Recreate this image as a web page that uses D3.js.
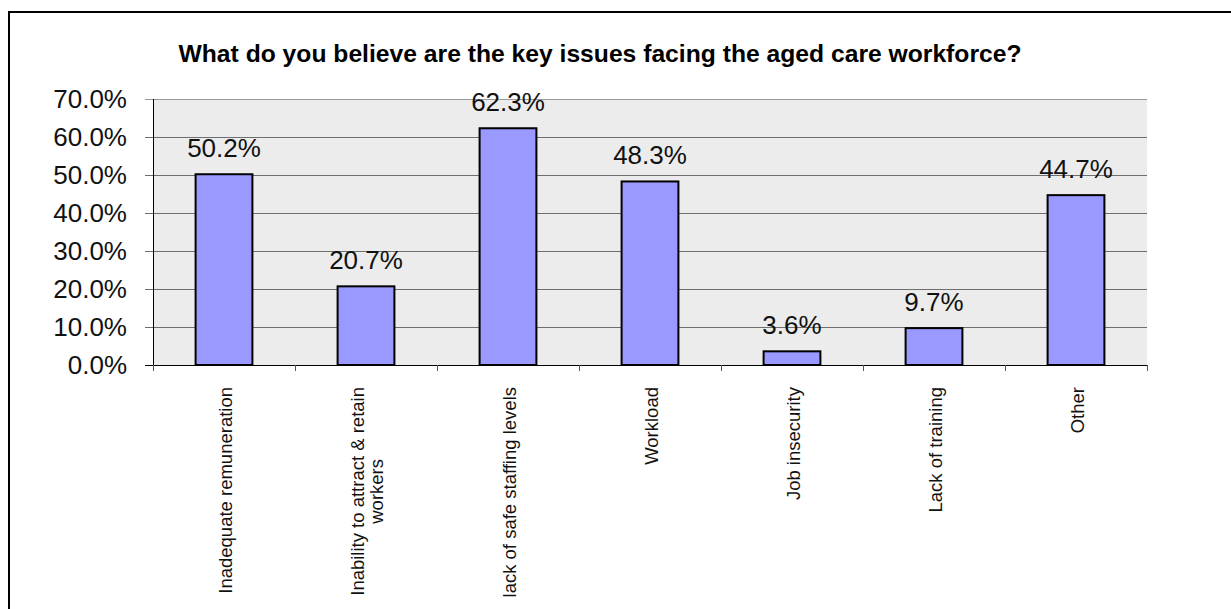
<!DOCTYPE html>
<html>
<head>
<meta charset="utf-8">
<script src="https://cdn.jsdelivr.net/npm/d3@7"></script>
<style>
  body { margin: 0; background: #fff; }
  svg { display: block; font-family: "Liberation Sans", Arial, sans-serif; }
</style>
</head>
<body>
<div id="chart"></div>
<script>
// data
const categories = [
  ["Inadequate remuneration"],
  ["Inability to attract & retain", "workers"],
  ["lack of safe staffing levels"],
  ["Workload"],
  ["Job insecurity"],
  ["Lack of training"],
  ["Other"]
];
const values = [50.2, 20.7, 62.3, 48.3, 3.6, 9.7, 44.7];
const yTicks = [0, 10, 20, 30, 40, 50, 60, 70];
const title = "What do you believe are the key issues facing the aged care workforce?";

const width = 1231, height = 609;
const margin = {left: 153, right: 84, top: 99, bottom: 244};

const svg = d3.select("#chart").append("svg")
    .attr("width", width)
    .attr("height", height);

// outer frame (runs off the right and bottom of the picture)
svg.append("rect")
    .attr("x", 9).attr("y", 12)
    .attr("width", width).attr("height", height)
    .attr("fill", "none")
    .attr("stroke", "#000")
    .attr("stroke-width", 2);

const x = d3.scaleBand()
    .domain(d3.range(categories.length))
    .range([margin.left, width - margin.right])
    .paddingInner(0.6)
    .paddingOuter(0.3);

const y = d3.scaleLinear()
    .domain([0, 70])
    .range([height - margin.bottom, margin.top]);

// plot background
svg.append("rect")
    .attr("x", margin.left).attr("y", margin.top)
    .attr("width", width - margin.right - margin.left)
    .attr("height", y(0) - margin.top)
    .attr("fill", "#ececec");

// grid lines + y ticks
svg.append("g")
    .selectAll("line")
    .data(yTicks.filter(d => d > 0))
    .join("line")
        .attr("x1", margin.left - 8)
        .attr("x2", width - margin.right)
        .attr("y1", d => y(d) + 0.5)
        .attr("y2", d => y(d) + 0.5)
        .attr("stroke", d => d == 70 ? "#999" : "#6e6e6e")
        .attr("stroke-width", 1);

svg.append("g")
    .selectAll("text")
    .data(yTicks)
    .join("text")
        .attr("x", 127)
        .attr("y", d => y(d))
        .attr("dy", "0.36em")
        .attr("text-anchor", "end")
        .attr("font-size", 26)
        .attr("fill", "#111")
        .text(d => d.toFixed(1) + "%");

// bars
svg.append("g")
    .selectAll("rect")
    .data(values)
    .join("rect")
        .attr("x", (d, i) => x(i))
        .attr("y", d => y(d))
        .attr("width", x.bandwidth())
        .attr("height", d => y(0) - y(d))
        .attr("fill", "#9999ff")
        .attr("stroke", "#000")
        .attr("stroke-width", 2);

// value labels
svg.append("g")
    .selectAll("text")
    .data(values)
    .join("text")
        .attr("x", (d, i) => x(i) + x.bandwidth() / 2)
        .attr("y", d => y(d) - 17)
        .attr("text-anchor", "middle")
        .attr("font-size", 26)
        .attr("fill", "#111")
        .text(d => d.toFixed(1) + "%");

// axes lines
const step = x.step();
svg.append("line")
    .attr("x1", margin.left + 0.5).attr("x2", margin.left + 0.5)
    .attr("y1", margin.top).attr("y2", y(0))
    .attr("stroke", "#000");
svg.append("line")
    .attr("x1", margin.left - 8).attr("x2", width - margin.right)
    .attr("y1", y(0) + 0.5).attr("y2", y(0) + 0.5)
    .attr("stroke", "#000");
svg.append("g")
    .selectAll("line")
    .data(d3.range(categories.length + 1))
    .join("line")
        .attr("x1", i => margin.left + i * step + 0.5)
        .attr("x2", i => margin.left + i * step + 0.5)
        .attr("y1", y(0))
        .attr("y2", y(0) + 6)
        .attr("stroke", "#555");

// category labels, rotated, lines centred, block starts under the axis
const labelTop = y(0) + 22;
categories.forEach((lines, i) => {
    const cx = x(i) + x.bandwidth() / 2;
    const g = svg.append("g");
    const texts = g.selectAll("text")
        .data(lines)
        .join("text")
            .attr("font-size", 18.5)
            .attr("fill", "#111")
            .attr("text-anchor", "middle")
            .text(d => d);
    let w = 0;
    texts.each(function() { w = Math.max(w, this.getComputedTextLength()); });
    const cy = labelTop + w / 2;
    const n = lines.length;
    texts.attr("transform", (d, j) => {
        const off = (j - (n - 1) / 2) * 19;
        return "translate(" + (cx + off + 7.5) + "," + cy + ") rotate(-90)";
    });
});

// title
svg.append("text")
    .attr("x", 600)
    .attr("y", 62)
    .attr("text-anchor", "middle")
    .attr("font-size", 24)
    .attr("font-weight", "bold")
    .attr("fill", "#000")
    .attr("textLength", 843)
    .attr("lengthAdjust", "spacingAndGlyphs")
    .text(title);
</script>
</body>
</html>
